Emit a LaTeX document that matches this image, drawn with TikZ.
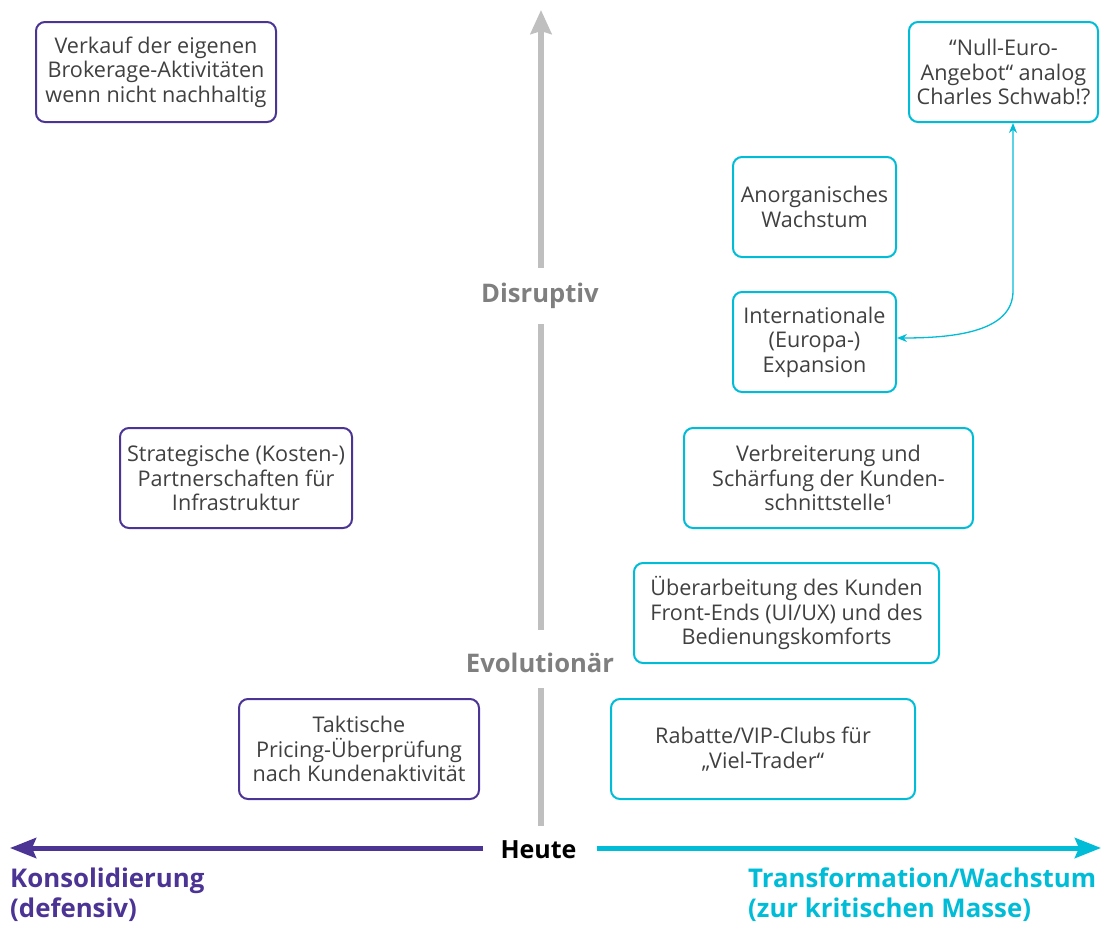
\documentclass[tikz,border=0pt]{standalone}
\usepackage{fontspec}
\setmainfont{Open Sans}
\usetikzlibrary{arrows.meta}
\definecolor{purp}{RGB}{75,52,148}
\definecolor{cyanc}{RGB}{0,188,215}
\definecolor{axgrey}{RGB}{191,191,191}
\definecolor{labgrey}{RGB}{127,127,127}
\definecolor{txt}{RGB}{64,64,64}
\tikzset{
  box/.style={draw, line width=2pt, rounded corners=9pt, inner sep=0pt, align=center,
    text=txt, font=\fontsize{21.6}{24.5}\selectfont},
  pbox/.style={box, draw=purp},
  cbox/.style={box, draw=cyanc},
  axlab/.style={font=\fontsize{25.6}{30}\selectfont\bfseries, text=labgrey, inner sep=0pt},
  sidelab/.style={font=\fontsize{25.8}{30}\selectfont\bfseries, align=left, anchor=north west, inner sep=0pt},
  axis/.style={line width=5.5pt, draw=axgrey},
}
\begin{document}
\begin{tikzpicture}[x=1pt,y=-1pt]
\useasboundingbox (0,0) rectangle (1104,926);
% boxes
\node[pbox, minimum width=240pt, minimum height=100pt] (verkauf) at (156,72) {Verkauf der eigenen\\Brokerage-Aktivitäten\\wenn nicht nachhaltig};
\node[pbox, minimum width=232pt, minimum height=100pt] (strat) at (236,478) {Strategische (Kosten-)\\Partnerschaften für\\Infrastruktur};
\node[pbox, minimum width=240pt, minimum height=100pt] (takt) at (359,749) {Taktische\\Pricing-Überprüfung\\nach Kundenaktivität};
\node[cbox, minimum width=189pt, minimum height=100pt] (null) at (1003.5,72) {“Null-Euro-\\Angebot“ analog\\Charles Schwab!?};
\node[cbox, minimum width=163pt, minimum height=100pt] (anorg) at (814.5,207) {Anorganisches\\Wachstum};
\node[cbox, minimum width=163pt, minimum height=100pt] (intl) at (814.5,342) {Internationale\\(Europa-)\\Expansion};
\node[cbox, minimum width=289pt, minimum height=100pt] (verbr) at (828.5,478) {Verbreiterung und\\Schärfung der Kunden-\\schnittstelle¹};
\node[cbox, minimum width=305pt, minimum height=100pt] (ueber) at (786.5,613) {Überarbeitung des Kunden\\Front-Ends (UI/UX) und des\\Bedienungskomforts};
\node[cbox, minimum width=304pt, minimum height=100pt] (rabatt) at (763,749) {Rabatte/VIP-Clubs für\\„Viel-Trader“};
% axis labels
\node[font=\fontsize{25}{30}\selectfont\bfseries, inner sep=0pt] (heute) at (538.5,849.5) {Heute};
\node[axlab] (evol) at (540,663) {Evolutionär};
\node[axlab] (disr) at (540,296) {Disruptiv};
\coordinate (top) at (541,10);
\coordinate (leftend) at (10,848);
\coordinate (rightend) at (1101,848);
\coordinate (a1) at (541,826);
\coordinate (a2) at (541,688);
\coordinate (a3) at (541,630);
\coordinate (a4) at (541,324);
\coordinate (a5) at (541,268);
% vertical axis
\draw[axis] (a1) -- (a2);
\draw[axis] (a3) -- (a4);
\draw[axis, -{Stealth[length=24pt,width=21pt,inset=3pt]}] (a5) -- (top);
% horizontal axis
\draw[line width=5pt, draw=purp, -{Stealth[length=26pt,width=20pt,inset=4pt]}] ([xshift=-17pt]heute.west |- leftend) -- (leftend);
\draw[line width=5pt, draw=cyanc, -{Stealth[length=26pt,width=20pt,inset=4pt]}] ([xshift=20pt]heute.east |- rightend) -- (rightend);
% side labels
\node[sidelab, text=purp] (kons) at (10,868) {Konsolidierung\\(defensiv)};
\node[sidelab, text=cyanc] (trans) at (748,868) {Transformation/Wachstum\\(zur kritischen Masse)};
% curved connector
\draw[cyanc, line width=1.3pt, {Stealth[length=10pt,width=8pt]}-{Stealth[length=10pt,width=8pt]}]
  ([xshift=9.5pt]null.south) -- ++(0,168) .. controls ++(0,40) and ++(60,0) .. ([yshift=4pt]intl.east);
\end{tikzpicture}
\end{document}
